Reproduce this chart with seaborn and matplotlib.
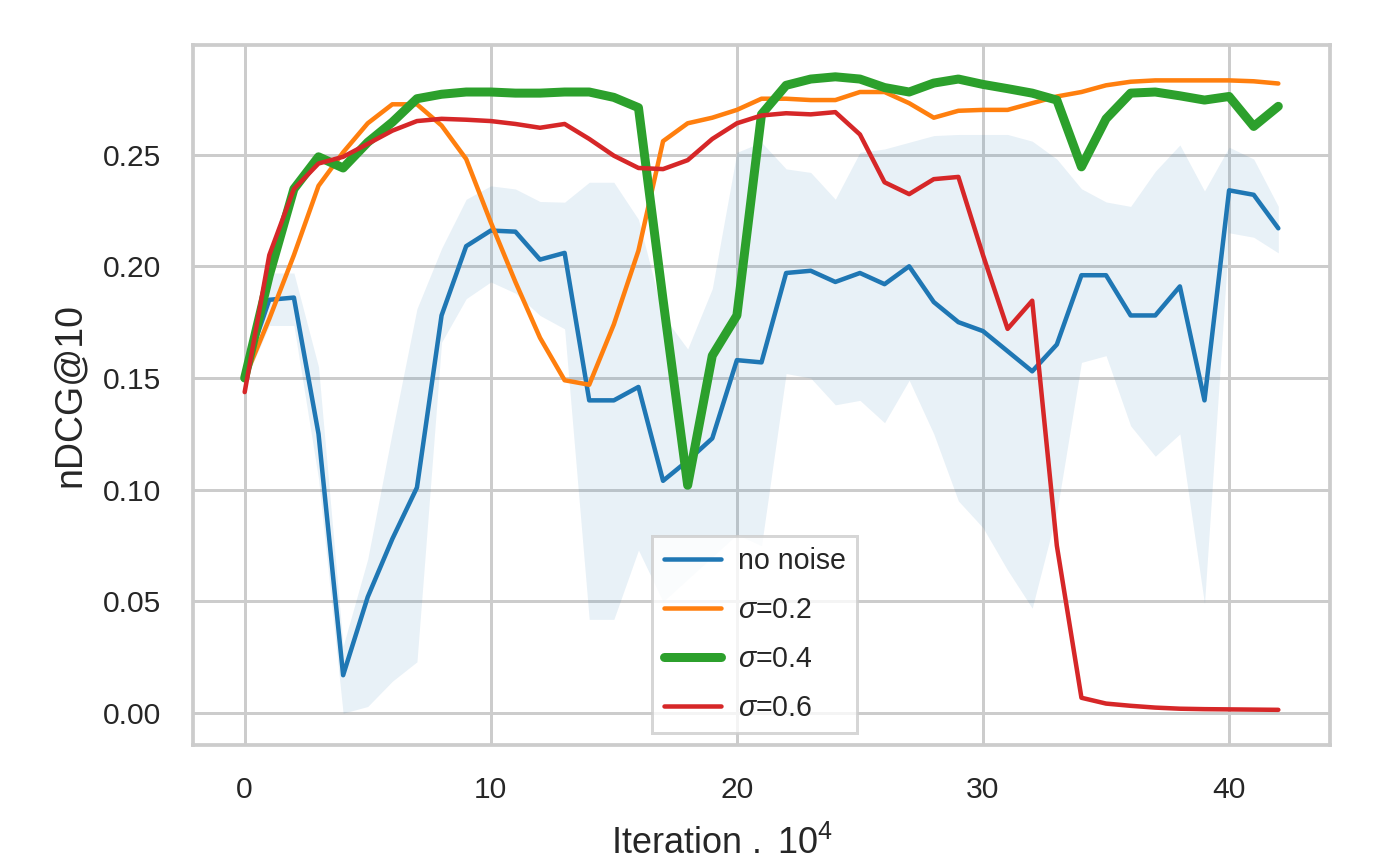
import matplotlib
matplotlib.use("Agg")
import matplotlib.pyplot as plt
import seaborn as sns

sns.set_theme(style="whitegrid")
plt.rcParams["font.family"] = ["Liberation Sans", "DejaVu Sans"]
plt.rcParams["mathtext.fontset"] = "custom"
plt.rcParams["mathtext.rm"] = "Liberation Sans"
plt.rcParams["mathtext.it"] = "Liberation Sans:italic"

iterations = list(range(43))

no_noise = [0.153, 0.185, 0.186, 0.125, 0.017, 0.052, 0.078, 0.101, 0.178, 0.209,
            0.216, 0.2155, 0.203, 0.206, 0.140, 0.140, 0.146, 0.104, 0.113, 0.123,
            0.158, 0.157, 0.197, 0.198, 0.193, 0.197, 0.192, 0.200, 0.184, 0.175,
            0.171, 0.162, 0.153, 0.165, 0.196, 0.196, 0.178, 0.178, 0.191, 0.140,
            0.234, 0.232, 0.217]
no_noise_low = [0.148, 0.1735, 0.1735, 0.105, 0.0, 0.003, 0.0143, 0.023, 0.166, 0.1855,
                0.193, 0.188, 0.178, 0.172, 0.042, 0.042, 0.073, 0.05, 0.06, 0.07,
                0.08, 0.075, 0.152, 0.150, 0.138, 0.14, 0.13, 0.149, 0.125, 0.095,
                0.083, 0.064, 0.047, 0.09, 0.157, 0.16, 0.1286, 0.115, 0.125, 0.049,
                0.215, 0.213, 0.206]
no_noise_high = [0.158, 0.197, 0.197, 0.155, 0.03, 0.069, 0.126, 0.181, 0.208, 0.230,
                 0.236, 0.2346, 0.229, 0.2287, 0.2376, 0.2376, 0.221, 0.178, 0.163, 0.190,
                 0.251, 0.2555, 0.2436, 0.242, 0.230, 0.251, 0.2525, 0.2555, 0.2585, 0.259,
                 0.259, 0.259, 0.256, 0.248, 0.2347, 0.2288, 0.2268, 0.2425, 0.2543, 0.2337,
                 0.2533, 0.248, 0.2268]
sigma_02 = [0.150, 0.1765, 0.205, 0.236, 0.251, 0.264, 0.2725, 0.2725, 0.263, 0.248,
            0.2197, 0.193, 0.168, 0.149, 0.147, 0.174, 0.207, 0.256, 0.264, 0.2665,
            0.270, 0.275, 0.275, 0.2744, 0.2744, 0.278, 0.278, 0.273, 0.2665, 0.2696,
            0.270, 0.270, 0.273, 0.276, 0.278, 0.281, 0.2826, 0.2832, 0.2832, 0.2832,
            0.2832, 0.2828, 0.2818]
sigma_04 = [0.150, 0.196, 0.2346, 0.249, 0.244, 0.2555, 0.2645, 0.275, 0.277, 0.278,
            0.278, 0.2775, 0.2775, 0.278, 0.278, 0.2756, 0.271, 0.185, 0.102, 0.160,
            0.178, 0.268, 0.281, 0.2838, 0.2848, 0.2838, 0.280, 0.278, 0.282, 0.2838,
            0.2814, 0.2795, 0.2775, 0.2744, 0.2445, 0.266, 0.2775, 0.278, 0.2763, 0.2744,
            0.276, 0.2626, 0.2716]
sigma_06 = [0.1437, 0.205, 0.2346, 0.246, 0.249, 0.2548, 0.2607, 0.265, 0.266, 0.2656,
            0.265, 0.2637, 0.262, 0.2637, 0.257, 0.2495, 0.244, 0.2435, 0.2475, 0.257,
            0.264, 0.2675, 0.2685, 0.268, 0.269, 0.259, 0.2376, 0.2323, 0.239, 0.240,
            0.205, 0.172, 0.1846, 0.075, 0.0069, 0.0043, 0.0033, 0.0025, 0.002, 0.0018,
            0.0017, 0.0016, 0.0015]

fig = plt.figure(figsize=(1391 / 216, 855 / 216), dpi=216)
ax = fig.add_axes([193 / 1391, 1 - 745 / 855, 1137 / 1391, 700 / 855])

# confidence band of the noise-free run
ax.fill_between(iterations, no_noise_low, no_noise_high, color="#1f77b4", alpha=0.1, linewidth=0)
sns.lineplot(x=iterations, y=no_noise, ax=ax, color="#1f77b4", linewidth=1.5, label="no noise")
sns.lineplot(x=iterations, y=sigma_02, ax=ax, color="#ff7f0e", linewidth=1.5, label=r"$\sigma$=0.2")
sns.lineplot(x=iterations, y=sigma_04, ax=ax, color="#2ca02c", linewidth=3, label=r"$\sigma$=0.4")
sns.lineplot(x=iterations, y=sigma_06, ax=ax, color="#d62728", linewidth=1.5, label=r"$\sigma$=0.6")

ax.set_xticks([0, 10, 20, 30, 40])
ax.tick_params(axis="x", labelsize=10, pad=10.5, length=0)
ax.tick_params(axis="y", labelsize=10, pad=10.5, length=0)
ax.set_xlabel(r"Iteration $.\ 10^4$", fontsize=12, labelpad=7, x=0.465)
ax.set_ylabel("nDCG@10", fontsize=12.5, labelpad=5)
for s in ax.spines.values():
    s.set_color("0.8")
    s.set_linewidth(1.25)

ax.legend(loc="lower left", bbox_to_anchor=(0.404, 0.017), borderaxespad=0,
          fontsize=9.5, labelspacing=0.73, handletextpad=0.6,
          fancybox=False, framealpha=0.8, edgecolor="0.8")

fig.savefig("out.png", dpi=216)
